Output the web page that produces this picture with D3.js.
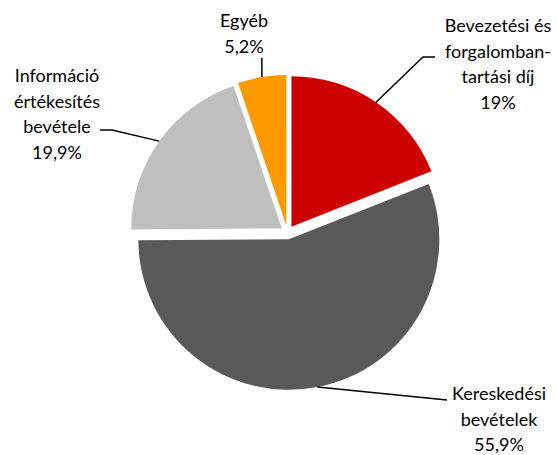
<!DOCTYPE html>
<html>
<head>
<meta charset="utf-8">
<script src="https://cdn.jsdelivr.net/npm/d3@7"></script>
<style>
  html, body { margin: 0; padding: 0; background: #fff; }
  svg { display: block; }
  text { font-family: Lato, "Open Sans", sans-serif; font-size: 18px; fill: #000; }
</style>
</head>
<body>
<svg id="chart" width="557" height="455"></svg>
<script>
// Data
const categories = ["Bevezetési és forgalombantartási díj", "Kereskedési bevételek", "Információ értékesítés bevétele", "Egyéb"];
const values = [19, 55.9, 19.9, 5.2];
const valueLabels = ["19%", "55,9%", "19,9%", "5,2%"];
const labelLines = [
  ["Bevezetési és", "forgalomban-", "tartási díj"],
  ["Kereskedési", "bevételek"],
  ["Információ", "értékesítés", "bevétele"],
  ["Egyéb"]
];
const colors = ["#CC0000", "#595959", "#BFBFBF", "#FF9900"];

// Layout
const W = 557, H = 455;
const cx = 287.5, cy = 232.5, R = 150.5, explode = 7;
const lineH = 25.5;
// label block: center x, first baseline y, leader elbow points (text side)
const labelPos = [
  { x: 498, y: 32, leader: [[435, 57], [423, 57]] },
  { x: 499, y: 400, leader: [[447, 400]] },
  { x: 57, y: 82, leader: [[100, 130], [112, 130]] },
  { x: 244, y: 27, leader: [[262, 58]] }
];

const svg = d3.select("#chart");
const g = svg.append("g").attr("transform", `translate(${cx},${cy})`);

const pie = d3.pie().sort(null).value(d => d).startAngle(0).endAngle(2 * Math.PI);
const arcs = pie(values);
const arc = d3.arc().innerRadius(0).outerRadius(R);

const dir = a => [Math.sin(a), -Math.cos(a)];

g.selectAll("path.slice")
  .data(arcs)
  .join("path")
  .attr("class", "slice")
  .attr("d", arc)
  .attr("fill", (d, i) => colors[i])
  .attr("transform", d => {
    const m = (d.startAngle + d.endAngle) / 2;
    const [dx, dy] = dir(m);
    return `translate(${dx * explode},${dy * explode})`;
  });

// leader lines
arcs.forEach((d, i) => {
  const m = (d.startAngle + d.endAngle) / 2;
  const [dx, dy] = dir(m);
  const edge = [cx + dx * (R + explode), cy + dy * (R + explode)];
  let pts = labelPos[i].leader.slice();
  if (i === 3) pts = [[edge[0], labelPos[i].leader[0][1]]];
  pts.push(edge);
  svg.append("path")
    .attr("d", d3.line()(pts))
    .attr("fill", "none")
    .attr("stroke", "#000")
    .attr("stroke-width", 1.5);
});

// labels
arcs.forEach((d, i) => {
  const lines = labelLines[i].concat([valueLabels[i]]);
  const t = svg.append("text")
    .attr("text-anchor", "middle")
    .attr("x", labelPos[i].x)
    .attr("y", labelPos[i].y);
  lines.forEach((l, j) => {
    t.append("tspan")
      .attr("x", labelPos[i].x)
      .attr("y", labelPos[i].y + j * lineH)
      .text(l);
  });
});
</script>
</body>
</html>
